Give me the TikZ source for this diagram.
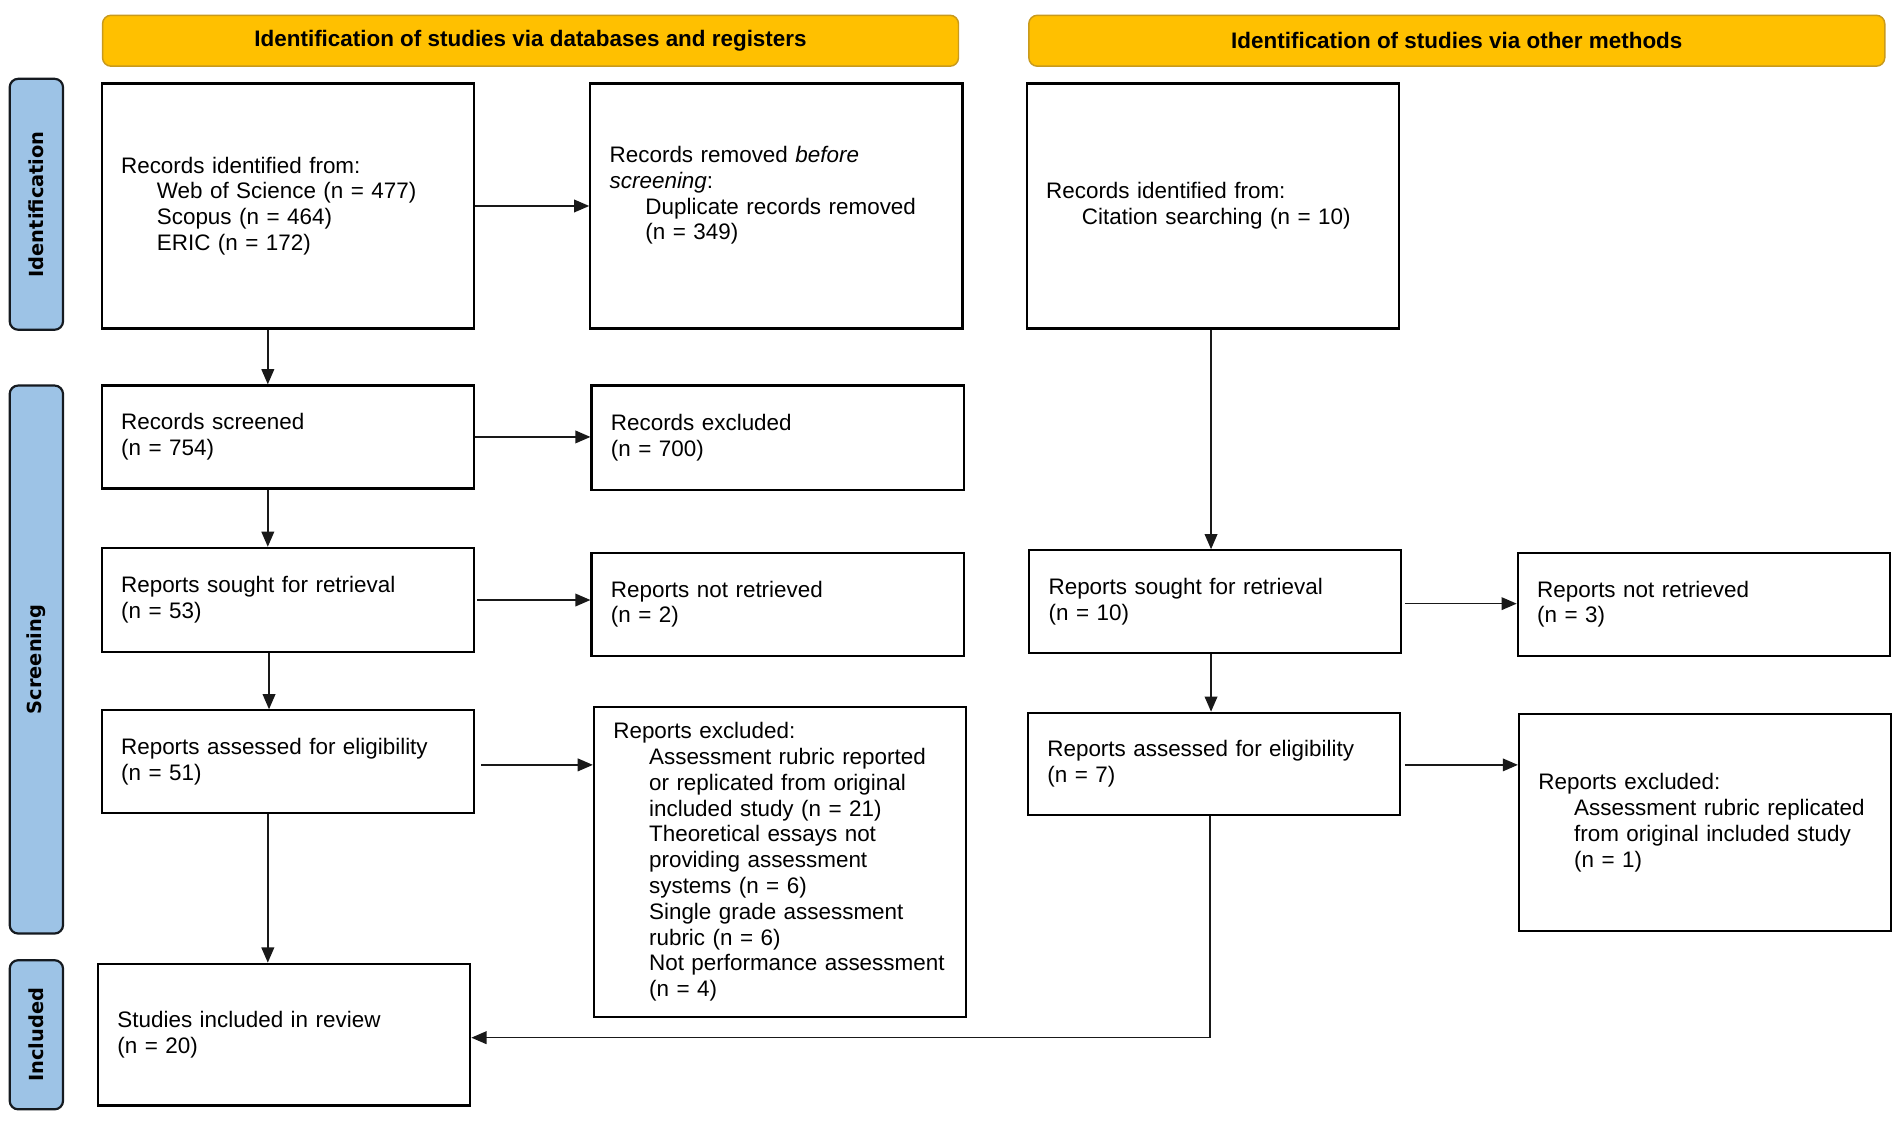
\documentclass[tikz,border=0pt]{standalone}
\usepackage{fontspec}
\setmainfont{Liberation Sans}
\newfontfamily\sidefont{DejaVu Sans}
\usetikzlibrary{arrows.meta}
\definecolor{hdrfill}{HTML}{FFC000}
\definecolor{hdrdraw}{HTML}{C99A1C}
\definecolor{sidefill}{HTML}{9DC3E6}
\definecolor{sidedraw}{HTML}{151A20}
\newcommand{\ind}{\hspace*{29.5pt}}
\begin{document}
\begin{tikzpicture}[x=1pt,y=-1pt,
  box/.style={draw=black, line width=1.8pt, rectangle, inner xsep=16pt, inner ysep=0pt,
    text width=275pt, align=left, anchor=north west,
    font=\fontsize{18.5}{21.3}\selectfont},
  hdr/.style={draw=hdrdraw, fill=hdrfill, rounded corners=7pt, line width=1.2pt,
    minimum width=706pt, minimum height=42pt, inner sep=0pt, anchor=north west,
    font=\bfseries\fontsize{18.5}{21}\selectfont},
  side/.style={draw=sidedraw, fill=sidefill, rounded corners=7pt, line width=1.8pt,
    minimum height=44pt, inner sep=0pt, rotate=90, text=black,
    font=\sidefont\bfseries\fontsize{16}{18}\selectfont},
  arr/.style={-{Triangle[length=12.5pt,width=10.5pt]}, line width=1.2pt, draw=black!90}]

\fill[white] (0,0) rectangle (1568,924);
\useasboundingbox (0,0) rectangle (1568,924);

% headers
\node[hdr] (h1) at (84,12) {Identification of studies via databases and registers};
\node[hdr] (h2) at (848,12) {Identification of studies via other methods};

% side labels
\node[side, minimum width=207pt] (s1) at (30,168.5) {Identification};
\node[side, minimum width=452pt] (s2) at (30,544) {Screening};
\node[side, minimum width=123pt] (s3) at (30,853.5) {Included};

% left column
\node[box, minimum height=202pt] (b1) at (83,68) {Records identified from:\\
  \ind Web of Science (n = 477)\\ \ind Scopus (n = 464)\\ \ind ERIC (n = 172)};
\node[box, minimum height=202pt] (b2) at (486,68) {Records removed \textit{before}\\
  \textit{screening}:\\ \ind Duplicate records removed\\ \ind (n = 349)\\ \mbox{}};
\node[box, minimum height=85pt] (b3) at (83,317) {Records screened\\ (n = 754)};
\node[box, minimum height=86pt] (b4) at (487,317) {Records excluded\\ (n = 700)};
\node[box, minimum height=86pt] (b5) at (83,451) {Reports sought for retrieval\\ (n = 53)};
\node[box, minimum height=85pt] (b6) at (487,455) {Reports not retrieved\\ (n = 2)};
\node[box, minimum height=85pt] (b7) at (83,585) {Reports assessed for eligibility\\ (n = 51)};
\node[box, minimum height=256pt] (b8) at (489,582) {Reports excluded:\\
  \ind Assessment rubric reported\\ \ind or replicated from original\\
  \ind included study (n = 21)\\ \ind Theoretical essays not\\
  \ind providing assessment\\ \ind systems (n = 6)\\
  \ind Single grade assessment\\ \ind rubric (n = 6)\\
  \ind Not performance assessment\\ \ind (n = 4)};
\node[box, minimum height=117pt] (b9) at (80,794) {Studies included in review\\ (n = 20)};

% right column
\node[box, minimum height=202pt] (c1) at (846,68) {Records identified from:\\
  \ind Citation searching (n = 10)};
\node[box, minimum height=85pt] (c2) at (848,453) {Reports sought for retrieval\\ (n = 10)};
\node[box, minimum height=85pt] (c3) at (1251,455) {Reports not retrieved\\ (n = 3)};
\node[box, minimum height=84pt] (c4) at (847,587) {Reports assessed for eligibility\\ (n = 7)};
\node[box, minimum height=179pt] (c5) at (1252,588) {Reports excluded:\\
  \ind Assessment rubric replicated\\ \ind from original included study\\ \ind (n = 1)};

% connectors
\draw[arr] (b1.east) -- (b1.east -| b2.west);
\draw[arr] ([xshift=-16.5pt]b1.south) -- ([xshift=-16.5pt]b1.south |- b3.north);
\draw[arr] (b3.east) -- (b3.east -| b4.west);
\draw[arr] ([xshift=-16.5pt]b3.south) -- ([xshift=-16.5pt]b3.south |- b5.north);
\draw[arr] ([xshift=2pt]b5.east) -- (b5.east -| b6.west);
\draw[arr] ([xshift=-15.5pt]b5.south) -- ([xshift=-15.5pt]b5.south |- b7.north);
\draw[arr] ([xshift=5pt,yshift=-2.5pt]b7.east) -- ([yshift=-2.5pt]b7.east -| b8.west);
\draw[arr] ([xshift=-16.5pt]b7.south) -- ([xshift=-16.5pt]b7.south |- b9.north);

\draw[arr] ([xshift=-1.5pt]c1.south) -- ([xshift=-1.5pt]c1.south |- c2.north);
\draw[arr] ([xshift=2pt,yshift=-1.5pt]c2.east) -- ([yshift=-1.5pt]c2.east -| c3.west);
\draw[arr] ([xshift=-3.5pt]c2.south) -- ([xshift=-3.5pt]c2.south |- c4.north);
\draw[arr] ([xshift=3pt,yshift=-1pt]c4.east) -- ([yshift=-1pt]c4.east -| c5.west);
\draw[arr] ([xshift=-3.5pt]c4.south) |- ([yshift=-2.5pt]b9.east);
\end{tikzpicture}
\end{document}
